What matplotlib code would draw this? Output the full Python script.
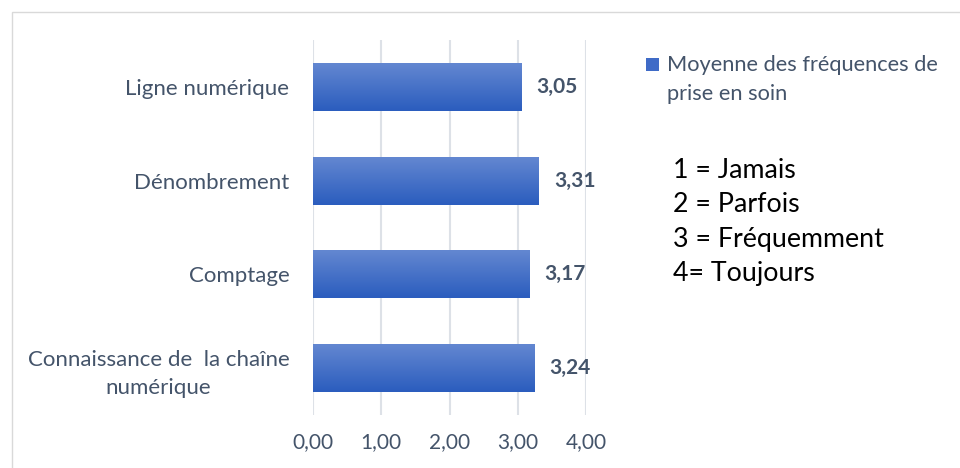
import matplotlib.pyplot as plt
import numpy as np
from matplotlib.colors import LinearSegmentedColormap
from matplotlib.patches import Rectangle

plt.rcParams['font.family'] = ['Lato', 'DejaVu Sans']

# data
categories = ['Connaissance de  la chaîne\nnumérique', 'Comptage', 'Dénombrement', 'Ligne numérique']
values = [3.24, 3.17, 3.31, 3.05]
ticks = [0, 1, 2, 3, 4]
tick_labels = ['0,00', '1,00', '2,00', '3,00', '4,00']
legend_lines = ['Moyenne des fréquences de', 'prise en soin']
scale_text = ['1 = Jamais', '2 = Parfois', '3 = Fréquemment', '4= Toujours']

txt_color = '#44546A'
grad = LinearSegmentedColormap.from_list('g', ['#2B5DBE', '#6387D1'])

W, H = 960, 468
fig = plt.figure(figsize=(9.6, 4.68), dpi=100)
ax = fig.add_axes([313 / W, 1 - 415 / H, 273 / W, 375 / H])

y = np.arange(len(categories))
h = 0.51
bars = ax.barh(y, values, height=h, color='none')
for b in bars:
    x0, y0 = b.get_x(), b.get_y()
    w, hh = b.get_width(), b.get_height()
    ax.imshow(np.linspace(0, 1, 64).reshape(-1, 1), cmap=grad, aspect='auto',
              extent=[x0, x0 + w, y0, y0 + hh], origin='lower', zorder=2)

for yi, v in zip(y, values):
    ax.text(v + 0.22, yi, f'{v:.2f}'.replace('.', ','), va='center', ha='left',
            fontsize=15, fontweight='bold', color=txt_color)

ax.set_xlim(0, 4)
ax.set_ylim(-0.5, len(categories) - 0.5)
ax.set_xticks(ticks)
ax.set_xticklabels(tick_labels, fontsize=15, color=txt_color)
ax.set_yticks(y)
ax.set_yticklabels(categories, fontsize=16, color=txt_color, ha='right',
                   multialignment='center', linespacing=1.5)
ax.tick_params(axis='y', length=0, pad=17)
ax.tick_params(axis='x', length=0, pad=12)
ax.grid(axis='x', color='#DDE1E7', linewidth=1.5, zorder=0)
ax.set_axisbelow(True)
for s in ax.spines.values():
    s.set_visible(False)

# legend
fig.patches.append(Rectangle((646 / W, 1 - 71 / H), 13 / W, 13 / H,
                             transform=fig.transFigure, facecolor='#3F6BC7',
                             edgecolor='none'))
for i, t in enumerate(legend_lines):
    fig.text(667 / W, 1 - (71 + 29 * i) / H, t, fontsize=15.7, color=txt_color,
             va='baseline', ha='left')

# scale key
for i, t in enumerate(scale_text):
    fig.text(673 / W, 1 - (178 + 34.5 * i) / H, t, fontsize=19.3, color='black',
             va='baseline', ha='left')

# chart border
fig.patches.append(Rectangle((12 / W, -0.1), 1.2, 1.1 - 12 / H,
                             transform=fig.transFigure, facecolor='none',
                             edgecolor='#D9D9D9', linewidth=1))

fig.savefig('out.png', dpi=100)
